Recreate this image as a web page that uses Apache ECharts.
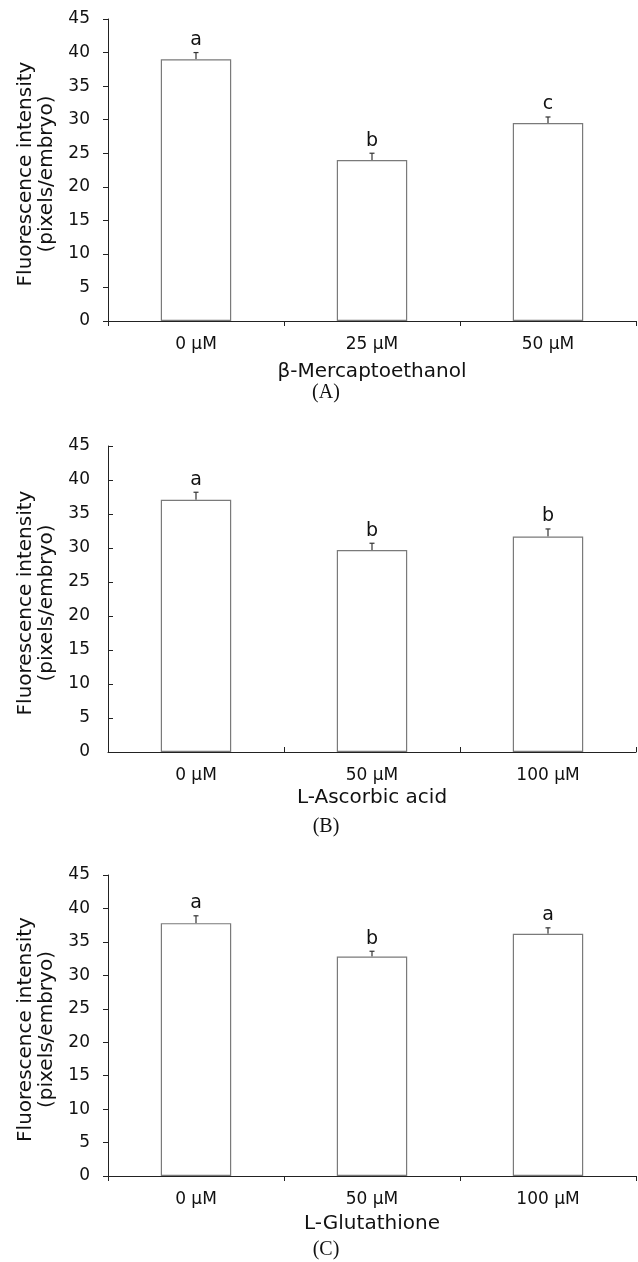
<!DOCTYPE html>
<html>
<head>
<meta charset="utf-8">
<script src="https://cdn.jsdelivr.net/npm/echarts@6/dist/echarts.min.js"></script>
<style>
html,body{margin:0;padding:0;background:#fff;}
#chart{width:638px;height:1262px;}
</style>
</head>
<body>
<div id="chart"></div>
<script>
// ---- data ----
const catsA = ['0 μM', '25 μM', '50 μM'];
const valsA = [39.0, 24.0, 29.5];
const errA = [1.0, 1.0, 0.9];
const letA = ['a', 'b', 'c'];

const catsB = ['0 μM', '50 μM', '100 μM'];
const valsB = [37.1, 29.7, 31.7];
const errB = [1.1, 1.0, 1.1];
const letB = ['a', 'b', 'b'];

const catsC = ['0 μM', '50 μM', '100 μM'];
const valsC = [37.8, 32.8, 36.2];
const errC = [1.1, 0.8, 0.9];
const letC = ['a', 'b', 'a'];

const yMin = 0, yMax = 45, yStep = 5;
const xTitles = ['β-Mercaptoethanol', 'L-Ascorbic acid', 'L-Glutathione'];
const captions = ['(A)', '(B)', '(C)'];
const yTitle = 'Fluorescence intensity\n(pixels/embryo)';

// ---- layout ----
const FONT = '"DejaVu Sans", Verdana, sans-serif';
const panels = [
  {cats: catsA, vals: valsA, err: errA, let: letA, top: 19, height: 302, tickInside: false, nameGap: 41, capY: 393},
  {cats: catsB, vals: valsB, err: errB, let: letB, top: 446, height: 306, tickInside: true, nameGap: 36, capY: 827},
  {cats: catsC, vals: valsC, err: errC, let: letC, top: 875, height: 301, tickInside: false, nameGap: 38, capY: 1250}
];

const grids = [], xAxes = [], yAxes = [], series = [], graphics = [];
panels.forEach((p, i) => {
  grids.push({left: 108, right: 2, top: p.top, height: p.height, containLabel: false});
  xAxes.push({
    type: 'category', gridIndex: i, data: p.cats, boundaryGap: true,
    axisLine: {show: true, lineStyle: {color: '#222', width: 1}},
    axisTick: {show: true, inside: p.tickInside, length: 5, alignWithLabel: false, lineStyle: {color: '#222'}},
    axisLabel: {color: '#111', fontSize: 17, fontFamily: FONT, margin: 15},
    name: xTitles[i], nameLocation: 'middle', nameGap: p.nameGap,
    nameTextStyle: {color: '#111', fontSize: 20, fontFamily: FONT},
    splitLine: {show: false}
  });
  yAxes.push({
    type: 'value', gridIndex: i, min: yMin, max: yMax, interval: yStep,
    axisLine: {show: true, lineStyle: {color: '#222', width: 1}},
    axisTick: {show: true, inside: p.tickInside, length: 5, lineStyle: {color: '#222'}},
    axisLabel: {color: '#111', fontSize: 17, fontFamily: FONT, margin: 18},
    splitLine: {show: false},
    name: yTitle, nameLocation: 'middle', nameRotate: 90, nameGap: 49,
    nameTextStyle: {color: '#111', fontSize: 20, fontFamily: FONT, lineHeight: 21, align: 'center', padding: [0, 8, 0, 0]}
  });
  series.push({
    type: 'bar', xAxisIndex: i, yAxisIndex: i, data: p.vals, barWidth: '40%',
    itemStyle: {color: '#fff', borderColor: '#7a7a7a', borderWidth: 1.2},
    silent: true, animation: false
  });
  const errData = p.vals.map((v, k) => [k, v, p.err[k]]);
  series.push({
    type: 'custom', xAxisIndex: i, yAxisIndex: i, data: errData, silent: true, animation: false,
    renderItem: function (params, api) {
      const x = api.value(0), v = api.value(1), e = api.value(2);
      const base = api.coord([x, v]);
      const top = api.coord([x, v + e]);
      const cap = 2.5;
      return {
        type: 'group',
        children: [
          {type: 'line', shape: {x1: base[0], y1: base[1], x2: top[0], y2: top[1]}, style: {stroke: '#333', lineWidth: 1.2}},
          {type: 'line', shape: {x1: top[0] - cap, y1: top[1], x2: top[0] + cap, y2: top[1]}, style: {stroke: '#333', lineWidth: 1.2}},
          {type: 'text', style: {text: p.let[params.dataIndex], x: top[0], y: top[1] - 3, textAlign: 'center', textVerticalAlign: 'bottom', fill: '#111', font: '19px ' + FONT}}
        ]
      };
    }
  });
  graphics.push({
    type: 'text', x: 326, y: p.capY,
    style: {text: captions[i], x: 0, y: 0, textAlign: 'center', textVerticalAlign: 'middle', fill: '#111', font: '20px "Liberation Serif", "Times New Roman", serif'}
  });
});

const chart = echarts.init(document.getElementById('chart'), null, {renderer: 'canvas'});
chart.setOption({
  animation: false,
  backgroundColor: '#fff',
  grid: grids, xAxis: xAxes, yAxis: yAxes, series: series, graphic: graphics
});
</script>
</body>
</html>
